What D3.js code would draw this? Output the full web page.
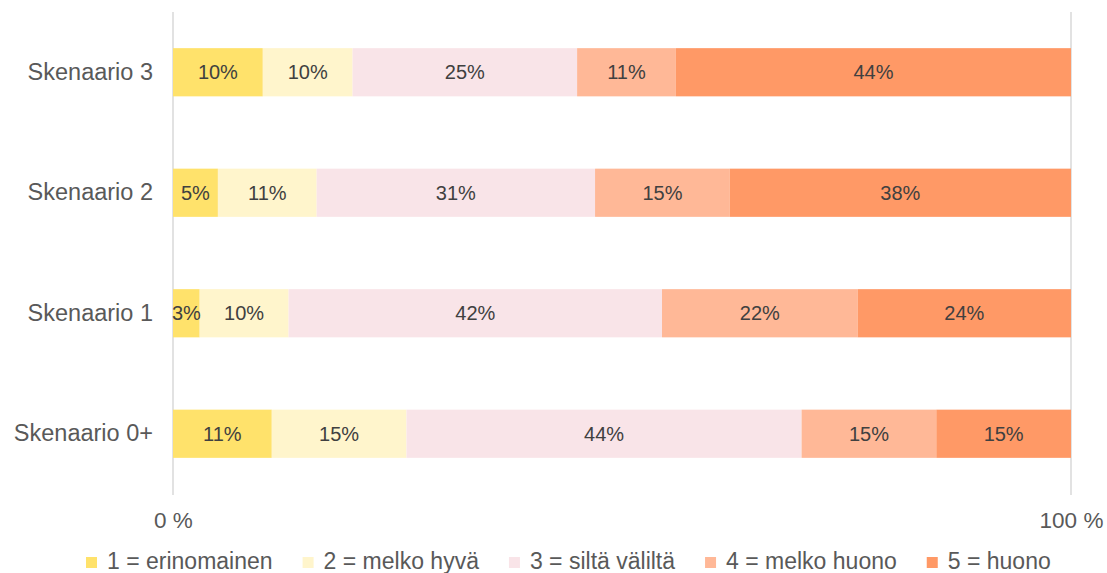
<!DOCTYPE html>
<html>
<head>
<meta charset="utf-8">
<script src="https://cdn.jsdelivr.net/npm/d3@7"></script>
<style>
  html, body { margin: 0; padding: 0; background: #fff; }
  svg { display: block; font-family: "Liberation Sans", Arial, sans-serif; }
</style>
</head>
<body>
<svg id="chart" width="1107" height="573"></svg>
<script>
// ---- data ----
const categories = ["Skenaario 3", "Skenaario 2", "Skenaario 1", "Skenaario 0+"];
const seriesNames = ["1 = erinomainen", "2 = melko hyvä", "3 = siltä väliltä", "4 = melko huono", "5 = huono"];
const s1_erinomainen = [10, 5, 3, 11];
const s2_melkoHyva   = [10, 11, 10, 15];
const s3_siltaValilta = [25, 31, 42, 44];
const s4_melkoHuono  = [11, 15, 22, 15];
const s5_huono       = [44, 38, 24, 15];
const tickLabels = ["0 %", "100 %"];
const tickValues = [0, 1];

const colors = ["#FFE26B", "#FFF5CC", "#F9E4E8", "#FFB897", "#FF9966"];
const seriesValues = [s1_erinomainen, s2_melkoHyva, s3_siltaValilta, s4_melkoHuono, s5_huono];

// build table
const rows = categories.map((c, i) => {
  const r = { category: c };
  seriesNames.forEach((s, j) => r[s] = seriesValues[j][i]);
  return r;
});
// normalize (100% stacked)
const normRows = rows.map(r => {
  const total = d3.sum(seriesNames, s => r[s]);
  const o = { category: r.category };
  seriesNames.forEach(s => o[s] = r[s] / total);
  return o;
});
const stack = d3.stack().keys(seriesNames)(normRows);

const svg = d3.select("#chart");
const x = d3.scaleLinear().domain([0, 1]).range([173, 1071]);
const y = d3.scaleBand().domain(categories).range([12, 494]).paddingInner(0.6).paddingOuter(0.3);

// gridlines
svg.append("g").selectAll("line").data(tickValues).join("line")
  .attr("x1", d => x(d)).attr("x2", d => x(d))
  .attr("y1", 12).attr("y2", 495)
  .attr("stroke", "#D9D9D9").attr("stroke-width", 1.5);

// bars
const layers = svg.append("g").selectAll("g").data(stack).join("g")
  .attr("fill", (d, i) => colors[i]);
layers.selectAll("rect").data(d => d.map(p => ({ p, key: d.key }))).join("rect")
  .attr("x", d => x(d.p[0]))
  .attr("width", d => x(d.p[1]) - x(d.p[0]))
  .attr("y", d => y(d.p.data.category))
  .attr("height", y.bandwidth());

// data labels
const labG = svg.append("g");
stack.forEach((layer, j) => {
  layer.forEach((p, i) => {
    labG.append("text")
      .attr("x", (x(p[0]) + x(p[1])) / 2)
      .attr("y", y(p.data.category) + y.bandwidth() / 2)
      .attr("dy", "0.35em")
      .attr("text-anchor", "middle")
      .attr("font-size", 20)
      .attr("fill", "#404040")
      .text(seriesValues[j][i] + "%");
  });
});

// category axis
const yAxis = d3.axisLeft(y).tickSize(0).tickPadding(20);
const yg = svg.append("g").attr("transform", `translate(${x(0)},0)`).call(yAxis);
yg.select(".domain").remove();
yg.selectAll("text").attr("font-size", 23.5).attr("fill", "#595959")
  .attr("font-family", "Liberation Sans, Arial, sans-serif");

// value axis
const xAxis = d3.axisBottom(x).tickValues(tickValues).tickFormat((d, i) => tickLabels[i]).tickSize(0).tickPadding(0);
const xg = svg.append("g").attr("transform", "translate(0,512)").call(xAxis);
xg.select(".domain").remove();
xg.selectAll("text").attr("font-size", 22.5).attr("fill", "#595959")
  .attr("font-family", "Liberation Sans, Arial, sans-serif").attr("dy", "0.71em");

// legend
const legend = svg.append("g");
let lx = 86;
seriesNames.forEach((s, i) => {
  const g = legend.append("g").attr("transform", `translate(${lx},0)`);
  g.append("rect").attr("x", 0).attr("y", 557).attr("width", 11).attr("height", 11).attr("fill", colors[i]);
  const t = g.append("text").attr("x", 21).attr("y", 569)
    .attr("font-size", 23).attr("fill", "#595959").text(s);
  lx += 21 + t.node().getComputedTextLength() + 30;
});
</script>
</body>
</html>
